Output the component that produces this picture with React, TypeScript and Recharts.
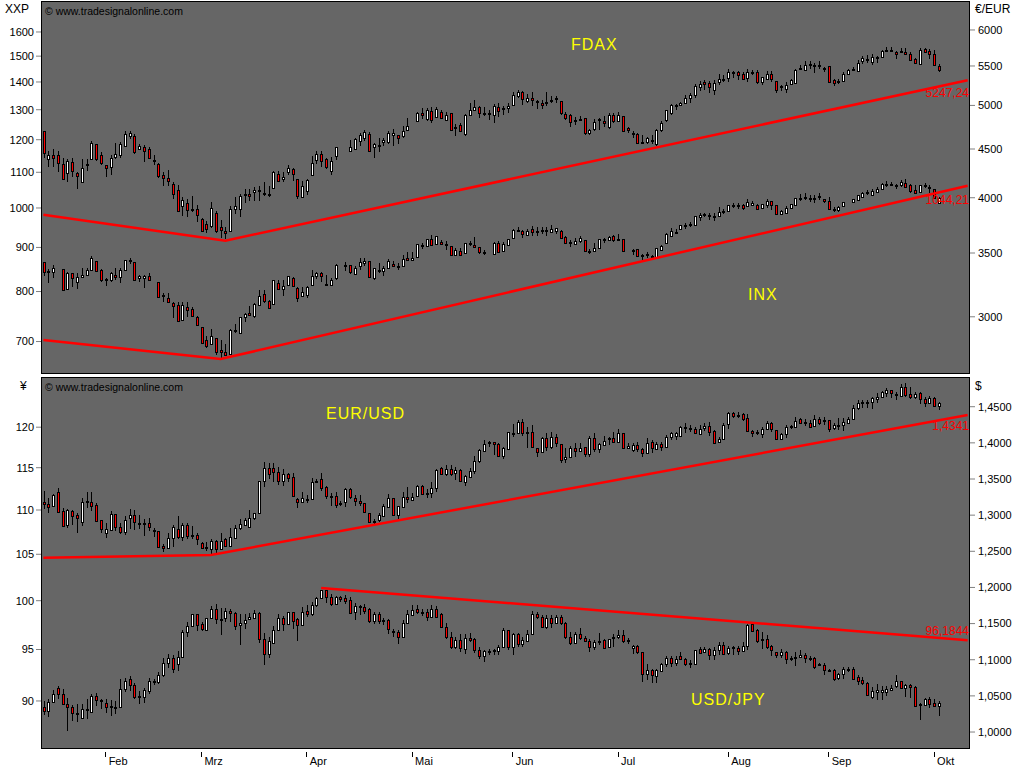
import { Bar, ComposedChart, Line, XAxis, YAxis } from 'recharts'

const FONT = '"Liberation Sans", Arial, sans-serif'
const GREY = '#666666'
const RED = '#ff0000'

// every row is [open, close, high, low], null = no session that day
type Row = number[] | null

const fdaxRows: Row[] = [
  [4698,4458,4698,4400],[4390,4438,4483,4310],[4438,4400,4500,4310],[4438,4355,4483,4255],[4340,4185,4400,4175],[4250,4375,4388,4160],[4360,4265,4400,4205],[4250,4215,4255,4085],[4155,4300,4395,4155],[4335,4340,4388,4265],
  [4390,4565,4590,4388],[4550,4390,4560,4375],[4438,4350,4470,4330],[4325,4300,4330,4210],[4305,4400,4438,4230],[4410,4445,4570,4390],[4440,4550,4580,4400],[4535,4670,4705,4525],[4640,4680,4705,4615],[4640,4465,4670,4445],
  [4495,4530,4560,4485],[4525,4480,4540,4365],[4495,4405,4525,4388],[4370,4380,4440,4330],[4340,4215,4350,4200],[4225,4195,4255,4120],[4200,4170,4280,4120],[4140,4040,4160,3990],[4075,3875,4130,3875],[3925,3975,4005,3830],
  [3950,3880,3990,3815],[3890,3895,4015,3865],[3895,3840,3930,3770],[3800,3690,3805,3680],[3750,3710,3780,3675],[3740,3900,3955,3720],[3855,3690,3875,3675],[3725,3700,3795,3630],[3690,3670,3730,3620],[3695,3890,3920,3685],
  [3890,3920,4005,3845],[3890,4015,4040,3815],[4030,4035,4085,3950],[4035,4015,4085,3965],[4055,4075,4110,3965],[4070,4075,4115,3965],[4045,4050,4155,4020],[4035,4040,4115,4005],[4100,4255,4265,4095],[4235,4170,4265,4160],
  [4185,4210,4255,4155],[4255,4300,4325,4230],[4285,4235,4300,4170],[4183,4020,4183,3985],[4010,4120,4170,4010],[4070,4180,4190,4030],[4230,4355,4420,4220],[4385,4445,4475,4340],[4450,4375,4475,4310],[4390,4310,4400,4290],
  [4265,4375,4410,4225],[4425,4520,4520,4385],null,null,[4482,4522,4604,4475],[4505,4612,4625,4495],[4585,4650,4680,4530],[4625,4690,4716,4585],[4670,4482,4690,4468],[4518,4560,4562,4400],
  [4542,4548,4625,4465],[4572,4598,4625,4530],[4572,4680,4698,4550],[4650,4680,4725,4530],[4650,4625,4660,4550],[4640,4698,4752,4625],[4716,4760,4850,4705],null,[4818,4915,4925,4810],[4915,4880,4970,4838],
  [4838,4940,4970,4810],[4930,4822,4975,4790],[4860,4955,4975,4850],[4920,4850,4940,4838],[4830,4885,4925,4820],[4910,4716,4915,4705],[4745,4750,4775,4640],[4765,4705,4795,4698],[4670,4890,4895,4640],[4890,4940,5030,4880],
  [4948,4980,5069,4935],[4975,4910,4995,4850],[4905,4910,4975,4870],[4910,4915,4948,4830],[4880,4995,5020,4795],[4980,4930,5035,4860],[4965,4970,4995,4880],[4965,4995,5030,4905],[5010,5130,5160,4995],[5120,5165,5185,5090],
  [5165,5080,5180,5010],[5050,5085,5145,5025],[5095,5065,5170,4995],[5045,5050,5060,4960],[5030,5000,5060,4960],[5035,5040,5160,4995],[5065,5070,5120,5030],[5090,5095,5110,5035],[5050,4910,5050,4890],[4895,4845,4925,4830],
  [4880,4800,4895,4750],[4825,4830,4865,4770],[4830,4835,4870,4810],[4850,4675,4850,4660],[4675,4716,4725,4660],[4725,4805,4838,4698],[4828,4835,4850,4716],[4820,4790,4870,4745],[4745,4880,4905,4728],[4890,4810,4915,4790],
  [4810,4880,4920,4800],[4870,4705,4875,4690],[4735,4710,4750,4680],[4675,4680,4698,4620],[4670,4570,4680,4555],[4575,4580,4650,4550],[4582,4625,4635,4555],[4595,4600,4650,4555],[4550,4710,4725,4530],[4715,4790,4810,4690],
  [4825,4940,4945,4800],[4905,5010,5020,4880],[5005,5010,5020,4948],[5000,5035,5040,4990],[5035,5090,5130,5015],[5095,5125,5155,5035],[5125,5245,5270,5090],[5230,5260,5300,5180],[5285,5260,5316,5190],[5275,5225,5305,5150],
  [5190,5275,5316,5130],[5295,5325,5390,5255],[5315,5335,5385,5295],[5340,5425,5455,5295],[5410,5415,5440,5340],[5415,5375,5440,5316],[5390,5335,5415,5316],[5340,5425,5465,5295],[5410,5415,5445,5375],[5415,5295,5445,5260],
  [5295,5350,5360,5255],[5335,5400,5430,5316],[5390,5330,5435,5295],[5300,5195,5305,5150],[5230,5235,5255,5180],[5200,5255,5295,5150],[5270,5316,5330,5255],[5275,5445,5465,5270],[5470,5475,5510,5445],[5445,5515,5565,5435],
  [5515,5520,5570,5465],[5505,5510,5540,5410],[5505,5510,5565,5465],[5465,5470,5490,5425],[5495,5295,5500,5285],[5316,5280,5335,5245],[5305,5310,5330,5260],[5305,5400,5415,5295],[5400,5450,5465,5390],[5455,5460,5490,5435],
  [5435,5540,5575,5435],[5565,5610,5635,5520],[5590,5595,5650,5545],[5550,5625,5660,5510],[5610,5615,5640,5545],[5625,5705,5720,5615],[5715,5720,5755,5690],[5710,5715,5760,5690],[5695,5660,5705,5590],[5700,5705,5745,5670],
  [5695,5660,5745,5650],[5665,5585,5695,5565],[5595,5540,5610,5530],[5530,5715,5745,5520],[5735,5695,5745,5670],[5705,5665,5730,5590],[5665,5515,5715,5510],[5500,5445,5530,5425],
]

const inxRows: Row[] = [
  [866,842,866,835],[843,845,850,818],[843,851,859,830],null,[849,804,849,804],[805,840,842,804],[840,829,840,810],[821,832,840,805],[832,837,853,829],[837,847,851,835],
  [847,874,880,845],[868,844,868,844],[847,826,850,821],[826,827,830,813],[826,840,842,821],[837,832,851,826],[832,847,852,819],[847,870,871,845],[869,870,875,861],[866,825,866,824],
  [829,833,836,820],[830,835,836,808],[834,826,840,824],null,[820,788,820,788],[790,792,796,778],[787,778,797,776],[776,769,778,745],[771,740,777,738],[741,772,777,739],
  [768,762,779,747],[764,749,768,747],[747,732,749,730],[727,697,727,695],[702,692,711,688],[695,710,723,693],[707,680,707,676],[684,680,703,670],[680,675,695,673],[678,722,723,676],
  [721,722,733,716],[716,748,748,715],[748,753,755,738],[755,751,770,749],[749,774,775,745],[772,790,804,770],[794,781,804,776],[781,765,783,763],[773,824,825,772],[819,806,826,804],
  [806,812,826,790],[815,834,835,813],[830,813,831,812],[807,787,809,779],[790,798,809,789],[792,809,812,787],[814,834,848,813],[833,840,843,827],[840,833,842,820],[816,815,837,813],
  [815,826,829,812],[829,859,862,826],null,[857,858,865,844],[858,842,858,839],[839,852,856,837],[856,866,874,848],[864,869,876,856],[869,832,869,832],[830,851,851,825],
  [847,848,864,840],[846,851,856,835],[853,868,872,851],[862,857,868,855],[856,857,863,847],[857,873,881,855],[876,871,888,869],[870,876,890,867],[877,908,908,877],[904,905,910,897],
  [904,920,920,904],[921,906,931,904],[909,929,929,907],[914,908,918,906],[907,908,915,895],[904,883,904,883],[883,894,898,880],[892,883,898,880],[886,910,910,886],[909,910,916,904],
  [907,902,926,899],[900,888,902,885],[887,888,893,882],null,[885,910,912,882],[910,890,915,889],[891,908,912,889],[906,920,920,904],[922,943,945,920],[942,943,950,937],
  [941,932,943,922],[931,941,945,929],[945,938,953,929],[940,941,950,927],[941,942,951,932],[941,942,950,927],[939,945,955,936],[941,947,947,933],[941,924,943,920],[926,911,927,910],
  [911,912,918,902],[908,916,922,906],[916,922,928,911],[917,891,917,891],[891,892,897,885],[892,899,911,890],[899,920,920,897],[919,920,923,911],[918,925,928,916],[927,917,930,913],
  [919,920,932,918],[921,892,921,892],null,[894,895,897,882],[896,879,896,878],[881,882,885,870],[883,884,888,874],[878,879,882,874],[877,899,899,877],[895,903,905,892],
  [910,933,935,908],[928,940,947,926],[938,939,945,934],[945,955,955,942],[954,955,960,945],[956,957,964,950],[956,980,980,954],[976,982,986,967],[983,984,988,975],[980,981,986,969],
  [979,980,986,967],[979,990,1002,976],[991,992,997,985],[992,1007,1009,990],[1008,1009,1014,1000],[1007,1008,1013,997],[1009,1000,1011,995],[1005,1016,1024,1002],[1007,1014,1018,1005],[1009,998,1012,995],
  [1000,1012,1012,998],[1007,1018,1023,1000],[1018,1009,1020,995],[1009,984,1009,982],[984,992,994,982],[987,1000,1004,984],[999,1010,1010,998],[1008,1027,1027,1008],[1026,1027,1037,1018],[1028,1029,1040,1022],
  [1027,1028,1034,1015],[1026,1027,1034,1014],[1030,1032,1041,1022],[1024,1019,1025,1014],[1019,997,1031,995],[995,996,1002,990],[995,1003,1005,990],[1005,1016,1016,1003],null,[1016,1024,1024,1016],
  [1022,1034,1036,1022],[1030,1042,1044,1028],[1042,1043,1049,1034],[1036,1047,1051,1034],[1044,1052,1058,1041],[1051,1067,1069,1049],[1066,1067,1074,1058],[1065,1066,1072,1060],[1061,1062,1066,1053],[1062,1072,1078,1059],
  [1070,1058,1080,1056],[1062,1047,1066,1042],[1049,1042,1062,1038],[1044,1062,1062,1042],[1062,1063,1068,1054],[1057,1058,1062,1042],[1051,1026,1051,1026],[1013,1028,1030,1010],
]

// EUR/USD in 1/10000 of a dollar
const eurRows: Row[] = [
  [13177,13149,13334,13080],[13149,13117,13232,13025],[13126,13274,13290,13117],[13324,13043,13370,13034],[13052,12850,13094,12840],[12859,13071,13085,12817],[13062,12992,13071,12863],[12997,12965,13025,12758],[12910,13186,13232,12850],[13190,13195,13315,13103],
  [13177,13131,13324,13057],[13135,12923,13163,12919],[12928,12804,12932,12758],[12748,12804,12886,12688],[12794,13016,13062,12785],[13011,12831,13016,12785],[12831,12771,12886,12739],[12771,12933,12988,12725],[12956,12997,13080,12804],[12997,12900,13071,12794],
  [12892,12895,13002,12804],[12885,12888,12942,12716],[12886,12840,12956,12785],[12794,12797,12827,12702],[12785,12564,12785,12555],[12573,12541,12600,12495],[12541,12679,12748,12531],[12679,12831,12863,12555],[12803,12702,12988,12670],[12702,12863,12886,12647],
  [12863,12716,12886,12670],[12725,12728,12850,12670],[12725,12665,12748,12587],[12610,12550,12633,12531],[12550,12553,12633,12508],[12531,12642,12670,12462],[12647,12531,12656,12472],[12531,12647,12748,12518],[12665,12573,12679,12564],[12578,12693,12817,12555],
  [12688,12817,12863,12679],[12817,12873,12942,12794],[12863,12933,12956,12854],[12840,12956,13071,12831],[12956,13025,13034,12933],[13025,13467,13467,13025],[13472,13647,13730,13394],[13647,13564,13716,13495],[13647,13601,13716,13463],[13601,13477,13670,13417],
  [13477,13564,13633,13407],[13564,13518,13587,13463],[13523,13269,13578,13246],[13218,13186,13232,13103],[13186,13232,13324,13163],[13218,13221,13278,13163],[13218,13454,13509,13209],[13467,13470,13495,13454],[13495,13380,13578,13338],[13394,13265,13407,13218],
  [13265,13268,13311,13126],[13265,13140,13324,13103],[13163,13166,13200,13120],[13178,13358,13371,13109],[13358,13256,13371,13224],[13242,13196,13279,13132],[13201,13164,13279,13127],[13164,13040,13173,13026],[13035,12901,13035,12887],[12920,12923,12943,12878],
  [12933,13003,13026,12910],[12993,13127,13155,12980],[13118,13233,13293,13095],[13233,13003,13233,12993],[13003,13127,13127,12947],[13118,13247,13325,13109],[13247,13219,13385,13173],[13210,13256,13302,13201],[13270,13404,13417,13265],[13404,13293,13417,13279],
  [13302,13305,13357,13233],[13302,13371,13464,13233],[13371,13625,13639,13325],[13648,13565,13671,13556],[13565,13639,13694,13547],[13639,13570,13694,13542],[13579,13625,13671,13487],[13625,13477,13639,13464],[13464,13542,13556,13408],[13533,13616,13648,13523],
  [13616,13754,13818,13570],[13754,13901,13911,13717],[13892,13980,14040,13878],[14005,14008,14031,13948],[14008,13980,14017,13832],[13985,13823,13994,13809],[13823,13925,13948,13772],[13915,14146,14155,13901],[14132,14135,14261,14086],[14132,14293,14316,14123],
  [14293,14132,14326,14095],[14132,14155,14224,13934],[14155,13948,14247,13934],[13925,13878,13934,13800],[13878,14063,14086,13865],[14063,13948,14132,13892],[13948,14077,14155,13915],[14077,14003,14118,13938],[13980,13763,13980,13726],[13772,13809,13925,13726],
  [13809,13925,13957,13800],[13925,13892,13994,13809],[13892,13925,13994,13878],[13938,13842,13948,13809],[13842,14063,14095,13809],[14063,13911,14141,13878],[13911,13980,14003,13865],[13971,14031,14100,13961],[14058,14061,14086,13971],[14063,14017,14146,13994],
  [14017,14132,14187,14003],[14141,13934,14141,13915],[13934,13961,13994,13911],[13901,13971,13994,13878],[13971,13911,14017,13878],[13911,13855,13925,13809],[13855,14003,14063,13842],[14008,13925,14040,13855],[13915,13980,14017,13901],[13985,13948,14017,13892],
  [13948,14086,14109,13948],[14086,14132,14155,14040],[14095,14132,14146,14040],[14095,14224,14230,14086],[14215,14218,14271,14141],[14201,14204,14247,14155],[14188,14141,14224,14118],[14123,14192,14247,14109],[14201,14238,14280,14164],[14234,14155,14294,14100],
  [14164,14003,14178,13994],[14017,14054,14086,13994],[14049,14247,14271,14040],[14257,14409,14423,14192],[14409,14377,14432,14349],[14386,14389,14423,14340],[14395,14330,14418,14307],[14340,14169,14395,14155],[14164,14132,14178,14077],[14141,14144,14178,14109],
  [14123,14192,14224,14072],[14188,14271,14307,14178],[14271,14188,14294,14155],[14178,14054,14178,14040],[14049,14118,14132,14040],[14118,14215,14247,14063],[14224,14227,14247,14192],[14224,14307,14363,14201],[14326,14280,14349,14261],[14284,14287,14330,14238],
  [14280,14224,14317,14201],[14234,14326,14386,14215],[14326,14280,14363,14247],[14316,14319,14363,14247],[14316,14188,14316,14155],[14201,14247,14280,14178],[14247,14250,14340,14178],[14247,14284,14349,14169],[14280,14326,14363,14271],[14326,14478,14524,14317],
  [14478,14547,14593,14455],[14556,14559,14593,14478],[14556,14559,14593,14478],[14570,14616,14639,14469],[14607,14639,14685,14547],[14639,14699,14722,14616],[14695,14732,14755,14639],[14732,14695,14732,14616],[14670,14672,14708,14593],[14653,14768,14814,14639],
  [14768,14662,14824,14639],[14672,14639,14778,14607],[14639,14672,14708,14607],[14685,14602,14708,14538],[14607,14556,14639,14501],[14556,14616,14653,14533],[14616,14510,14639,14492],[14515,14556,14570,14455],
]

const jpyRows: Row[] = [
  [89.47,89.06,90,88.65],[89.06,89.94,90.15,88.5],[89.94,90.7,91,89.85],[91.2,90.7,91.43,90.2],[90.7,89.75,91.1,89.7],[89.75,89.47,90.3,87.2],[89.47,88.9,89.6,88.1],[88.85,88.88,89.7,88],[88.4,89.2,89.75,88.3],[89.2,89.23,90.2,88.3],
  [88.95,90.45,90.7,88.95],[90.45,90.1,90.75,89.5],[90.05,90.1,90.2,89.2],[89.85,89.47,90.15,88.9],[89.45,89.48,90.1,88.6],[89.42,89.45,90,88.8],[89.4,91.15,92.1,89.3],[91.15,91.95,92.2,90.85],[92.1,91.5,92.35,90.95],[91.5,90.4,91.75,90.15],
  [90.4,90.43,90.95,89.7],[90.4,91,91.25,89.85],[90.95,91.95,92.2,90.65],[91.85,91.88,92.1,91.5],[91.8,92.5,92.75,91.65],[92.5,93.65,94.15,92.25],[93.65,94.15,94.55,93.2],[94.15,93.1,94.45,92.65],[93.55,94.3,94.9,92.85],[94.3,96.75,97,94.25],
  [96.75,97.4,97.75,96.3],[97.4,98.6,98.6,97.35],[98.6,97.5,98.6,96.85],[97.6,97.05,97.8,96.85],[97,98.2,98.25,96.9],[98.2,99.1,99.45,98.1],[99.1,98.1,99.65,97.6],[98.1,98.12,99.2,96.5],[98.25,98.95,99.2,97.8],[98.95,98.7,99.15,97.8],
  [98.7,97.4,98.85,96.95],[97.5,97.65,98.6,95.5],[97.65,98,98.6,97.1],[98.1,98.3,98.7,97.95],[98.25,98.7,99.05,98.1],[98.7,96.1,98.8,95.65],[96.1,94.6,96.65,93.5],[94.6,95.85,96.3,94.2],[95.65,96.95,97.35,95.6],[96.95,98.2,98.6,96.85],
  [98.2,97.6,98.45,96.85],[97.55,98.8,98.85,97.45],[98.8,97.85,98.85,97.1],[98.1,97.45,98.25,95.85],[97.45,98.8,99.3,97.35],[98.95,98.6,99.55,98.35],[98.6,99.6,99.9,98.4],[99.6,100.25,100.4,99.3],[100.3,101.1,101.1,100.2],[101.1,100.4,101.1,99.8],
  [100.4,99.65,100.75,99.4],[99.65,100.35,100.45,99.6],[100.35,100.15,100.5,99.9],[100.3,99.95,100.55,99.7],[100.05,98.75,100.4,98.6],[98.8,99.45,99.8,97.95],[99.4,99.43,99.6,98.5],[99.3,98.95,99.7,98.6],[99.15,97.9,99.2,97.65],[97.9,98.6,98.85,97.6],
  [98.6,97.9,98.8,97.55],[97.95,97.98,98.25,97.5],[97.95,97.1,98.05,96.55],[96.85,96.88,97.05,96.3],[96.8,96.3,97,95.6],[96.3,97.65,97.97,96.25],[97.65,98.6,99,97.55],[98.55,99.05,99.55,98.5],[99.15,98.8,99.5,98.6],[98.75,98.78,99.1,98.45],
  [98.85,98.35,99.1,97.9],[98.35,99.1,99.6,98.25],[99.1,98.35,99.45,98.2],[98.6,97.3,98.7,97.2],[97.3,96.3,97.7,96.1],[96.3,95.25,96.75,95.1],[95.25,96,96.25,95.1],[96,95.2,96.55,94.75],[95.05,96.2,96.6,94.6],[96.2,95.95,96.65,95.8],
  [96.05,94.95,96.2,94.7],[94.95,94.4,95.25,94.05],[94.35,94.85,94.95,93.8],[94.85,94.88,95.1,94.45],[94.9,94.93,95.1,94.5],[94.9,95.25,95.45,94.5],[95.25,96.95,97.2,95.2],[96.95,95.25,96.95,94.95],[95.25,96.6,96.7,94.45],[96.6,95.6,96.7,95.25],
  [95.6,95.95,96.3,95.25],[95.9,96.6,96.95,95.8],[96.6,98.6,98.9,96.5],[98.6,98.3,98.85,98.1],[98.35,97.3,98.5,97.2],[97.3,98.15,98.5,97.05],[98.15,97.7,98.55,97.2],[97.7,98.35,98.55,97.55],[98.35,97.7,98.55,97.45],[97.7,96.3,97.75,96.05],
  [96.3,95.7,96.75,95.5],[95.7,96.6,96.75,95.65],[96.6,96.15,97.15,95.95],[96.15,95.9,96.35,95.75],[95.9,95.25,96.05,94.8],[95.25,95.75,95.95,95],[95.75,95.9,96.65,95.5],[96,95.2,96.05,95.1],[95.3,96.05,96.1,95.25],[96.15,96.3,96.55,95.3],
  [96.3,96.5,96.95,96.05],[96.5,95.9,96.95,95.7],[95.95,95.98,96.2,95.6],[95.15,95.4,95.5,94.6],[95.4,94.75,95.5,94.6],[94.75,92.6,94.75,91.8],[92.6,93,93.6,92],[93,92.5,93.1,91.75],[92.4,93,93.1,91.7],[92.85,93.6,93.7,92.8],
  [93.6,94.2,94.4,93.25],[94.2,93.65,94.4,93.25],[93.65,94.1,94.4,93.35],[94.35,94.1,94.8,94],[94.1,93.55,94.2,93.35],[93.6,93.63,93.95,93.15],[93.55,95,95,93.5],[95.05,94.7,95.25,94.6],[94.75,95.1,95.25,94.65],[95.1,94.5,95.2,93.95],
  [94.5,95,95.25,94],[95,95.5,95.8,94.45],[95.5,94.6,95.75,94.5],[94.7,95.2,95.35,94.5],[95.25,95.28,95.35,94.45],[95.2,94.85,95.35,94.5],[94.85,95.4,95.8,94.75],[95.4,97.5,97.55,95],[97.55,96.9,97.7,96.8],[97,95.85,97.05,95.65],
  [95.95,96.1,96.8,95.1],[96.1,95.3,96.45,95.1],[95.4,94.95,95.45,94.4],[94.75,94.5,94.8,94.2],[94.5,94.75,95.1,94.2],[94.75,94.1,94.9,93.55],[94.15,94.18,94.4,93.85],[94.2,94.23,94.75,93.35],[94.25,94.5,95,94.15],[94.5,94.15,94.65,93.7],
  [94.15,94.18,94.4,93.85],[94.15,93.3,94.25,93.1],[93.5,93.53,93.7,93.35],[93.5,92.95,93.65,92.45],[92.95,92.98,93.1,92.75],[92.95,92.15,93.05,91.95],[92.2,92.55,92.7,92],[92.55,93.05,93.3,92.15],[93,93.03,93.3,92.8],[93.05,92.15,93.3,92.1],
  [92.25,91.9,92.45,91.55],[92,91.75,92.25,91.5],[91.75,90.6,91.8,90.55],[90.4,90.95,91.3,90.2],[90.85,91,91.65,90.05],[90.85,91,91.4,90.1],[90.85,91.1,91.4,90.45],[91,91.25,91.5,90.95],[91.4,91.95,92.5,91.2],[91.95,91.2,91.95,91.1],
  [91.25,91.5,91.6,90.4],[91.5,91.3,91.6,90.3],[91.35,89.55,91.4,89.55],[89.65,89.68,89.78,88.2],[89.65,90.15,90.3,89.55],[90.15,89.7,90.4,89.35],[89.85,89.55,90.15,89.5],[89.55,89.8,90,88.55],
]

// trend lines: [session index, value]
const fdaxTrend = [[0, 3840], [38, 3606], [193, 5314]]
const inxTrend = [[0, 703], [37, 668], [193, 1061]]
const eurTrend = [[0, 1.241], [35, 1.2448], [193, 1.4385]]
const jpyTrend = [[58, 101.35], [193, 95.94]]

const inxTicks = [700, 800, 900, 1000, 1100, 1200, 1300, 1400, 1500, 1600]
const fdaxTicks = [3000, 3500, 4000, 4500, 5000, 5500, 6000]
const jpyTicks = [90, 95, 100, 105, 110, 115, 120]
const eurTicks = [1, 1.05, 1.1, 1.15, 1.2, 1.25, 1.3, 1.35, 1.4, 1.45]
const monthTicks = [13, 33, 55, 77, 98, 120, 143, 164, 186]
const monthNames = ['Feb', 'Mrz', 'Apr', 'Mai', 'Jun', 'Jul', 'Aug', 'Sep', 'Okt']

const SLOTS = 194

function trendAt(line: number[][], i: number) {
  const hit = line.find(p => p[0] === i)
  return hit ? hit[1] : null
}

const rows = Array.from({ length: SLOTS }, (_, i) => {
  const eur = eurRows[i] ? eurRows[i]!.map(v => v / 10000) : null
  return {
    day: i,
    fdax: fdaxRows[i] ?? null,
    inx: inxRows[i] ?? null,
    eur,
    jpy: jpyRows[i] ?? null,
    fdaxRange: fdaxRows[i] ? [fdaxRows[i]![3], fdaxRows[i]![2]] : null,
    inxRange: inxRows[i] ? [inxRows[i]![3], inxRows[i]![2]] : null,
    eurRange: eur ? [eur[3], eur[2]] : null,
    jpyRange: jpyRows[i] ? [jpyRows[i]![3], jpyRows[i]![2]] : null,
    fdaxLine: trendAt(fdaxTrend, i),
    inxLine: trendAt(inxTrend, i),
    eurLine: trendAt(eurTrend, i),
    jpyLine: trendAt(jpyTrend, i),
  }
})

function Candle({ x, y, width, height, payload, name, log }: any) {
  const row = payload?.[name]
  if (!row || !Number.isFinite(y) || !Number.isFinite(height)) return null
  const [open, close, high, low] = row
  const f = log ? Math.log : (v: number) => v
  const at = (v: number) => y + (height * (f(high) - f(v))) / (f(high) - f(low))
  const cx = Math.round(x + width / 2)
  const top = Math.round(at(Math.max(open, close)))
  const bottom = Math.round(at(Math.min(open, close)))
  return (
    <g shapeRendering="crispEdges">
      <line x1={cx + 0.5} x2={cx + 0.5} y1={y} y2={y + height} stroke="#000" />
      <rect
        x={cx - 0.5}
        y={top + 0.5}
        width={2}
        height={Math.max(bottom - top, 1)}
        fill={close >= open ? '#fff' : RED}
        stroke="#000"
      />
    </g>
  )
}

function MonthTick({ x, y, payload }: any) {
  const idx = monthTicks.indexOf(payload.value)
  return (
    <g>
      <line x1={x} x2={x} y1={y - 4} y2={y + 1} stroke="#000" shapeRendering="crispEdges" />
      <text x={x + 3} y={y + 9} fontSize={11} fontFamily={FONT} fill="#000">{monthNames[idx]}</text>
    </g>
  )
}

const tickStyle = { fill: '#000', fontSize: 11, fontFamily: FONT }
const tickLine = { stroke: '#808080' }

function Tag({ left, top, right, color, size = 11, spacing, children }: any) {
  return (
    <div style={{
      position: 'absolute', left, top, right, color, fontSize: size, letterSpacing: spacing,
      fontFamily: FONT, lineHeight: 1, whiteSpace: 'nowrap',
    }}>
      {children}
    </div>
  )
}

function Frame({ top, height }: any) {
  return (
    <div style={{
      position: 'absolute', left: 41, top, width: 929, height, boxSizing: 'border-box',
      background: GREY, border: '1px solid #000',
    }} />
  )
}

export default function App() {
  return (
    <div style={{ position: 'absolute', left: 0, top: 0, width: 1024, height: 768, background: '#fff', overflow: 'hidden' }}>
      <Frame top={1} height={373} />
      <Frame top={377} height={372} />

      <div style={{ position: 'absolute', left: 0, top: 0 }}>
        <ComposedChart width={1024} height={375} data={rows} margin={{ top: 1, right: 0, bottom: 2, left: 0 }} barCategoryGap={0}>
          <XAxis xAxisId="a" dataKey="day" hide />
          <XAxis xAxisId="b" dataKey="day" hide />
          <YAxis yAxisId="left" orientation="left" width={41} scale="log" domain={[643.6, 1738]} ticks={inxTicks} allowDataOverflow
            interval={0} axisLine={false} tick={tickStyle} tickLine={tickLine} tickSize={5} tickMargin={2} />
          <YAxis yAxisId="right" orientation="right" width={54} scale="log" domain={[2619, 6435]} ticks={fdaxTicks} allowDataOverflow
            interval={0} axisLine={false} tick={tickStyle} tickLine={tickLine} tickSize={5} tickMargin={3} />
          <Bar xAxisId="a" yAxisId="right" dataKey="fdaxRange" isAnimationActive={false}
            shape={(p: any) => <Candle {...p} name="fdax" log />} />
          <Bar xAxisId="b" yAxisId="left" dataKey="inxRange" isAnimationActive={false}
            shape={(p: any) => <Candle {...p} name="inx" log />} />
          <Line xAxisId="a" yAxisId="right" dataKey="fdaxLine" stroke={RED} strokeWidth={2.5} dot={false} connectNulls isAnimationActive={false} />
          <Line xAxisId="b" yAxisId="left" dataKey="inxLine" stroke={RED} strokeWidth={2.5} dot={false} connectNulls isAnimationActive={false} />
        </ComposedChart>
      </div>

      <div style={{ position: 'absolute', left: 0, top: 376 }}>
        <ComposedChart width={1024} height={392} data={rows} margin={{ top: 1, right: 0, bottom: 0, left: 0 }} barCategoryGap={0}>
          <XAxis xAxisId="a" dataKey="day" height={20} ticks={monthTicks} interval={0} axisLine={false} tickLine={false} tick={<MonthTick />} />
          <XAxis xAxisId="b" dataKey="day" hide />
          <YAxis yAxisId="left" orientation="left" width={41} scale="log" domain={[85.66, 126.5]} ticks={jpyTicks} allowDataOverflow
            interval={0} axisLine={false} tick={tickStyle} tickLine={tickLine} tickSize={5} tickMargin={2} />
          <YAxis yAxisId="right" orientation="right" width={54} domain={[0.9779, 1.4911]} ticks={eurTicks} allowDataOverflow
            interval={0} axisLine={false} tick={tickStyle} tickLine={tickLine} tickSize={5} tickMargin={3}
            tickFormatter={(v: number) => v.toFixed(4).replace('.', ',')} />
          <Bar xAxisId="a" yAxisId="right" dataKey="eurRange" isAnimationActive={false}
            shape={(p: any) => <Candle {...p} name="eur" />} />
          <Bar xAxisId="b" yAxisId="left" dataKey="jpyRange" isAnimationActive={false}
            shape={(p: any) => <Candle {...p} name="jpy" log />} />
          <Line xAxisId="a" yAxisId="right" dataKey="eurLine" stroke={RED} strokeWidth={2.5} dot={false} connectNulls isAnimationActive={false} />
          <Line xAxisId="b" yAxisId="left" dataKey="jpyLine" stroke={RED} strokeWidth={2.5} dot={false} connectNulls isAnimationActive={false} />
        </ComposedChart>
      </div>

      <Tag left={5} top={3} color="#000" size={12}>XXP</Tag>
      <Tag left={975} top={3} color="#000" size={12}>€/EUR</Tag>
      <Tag left={20} top={380} color="#000" size={12}>¥</Tag>
      <Tag left={975} top={380} color="#000" size={12}>$</Tag>
      <Tag left={45} top={6} color="#000" size={10.5}>© www.tradesignalonline.com</Tag>
      <Tag left={45} top={382} color="#000" size={10.5}>© www.tradesignalonline.com</Tag>

      <Tag left={571} top={37} color="#ffff00" size={16} spacing={1}>FDAX</Tag>
      <Tag left={748} top={287} color="#ffff00" size={16} spacing={1}>INX</Tag>
      <Tag left={326} top={406} color="#ffff00" size={16} spacing={1}>EUR/USD</Tag>
      <Tag left={691} top={692} color="#ffff00" size={16} spacing={1}>USD/JPY</Tag>

      <Tag right={55} top={87} color={RED} size={12}>5247,24</Tag>
      <Tag right={55} top={194} color={RED} size={12}>1044,21</Tag>
      <Tag right={55} top={420} color={RED} size={12}>1,4341</Tag>
      <Tag right={55} top={625} color={RED} size={12}>96,1844</Tag>
    </div>
  )
}
